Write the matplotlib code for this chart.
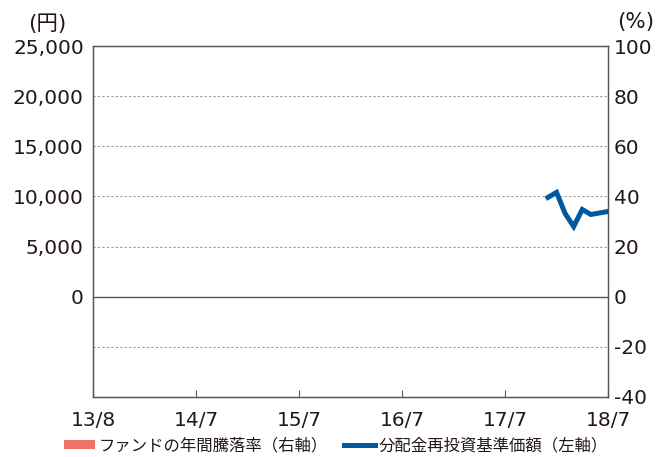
import matplotlib.pyplot as plt
from matplotlib.patches import Patch
from matplotlib.lines import Line2D

plt.rcParams["font.family"] = ["DejaVu Sans", "Noto Sans CJK JP"]
plt.rcParams["axes.unicode_minus"] = False

# months counted from 13/7, tick labels every 12 months
tick_pos = [0, 12, 24, 36, 48, 60]
tick_labels = ["13/8", "14/7", "15/7", "16/7", "17/7", "18/7"]

# 分配金再投資基準価額 (円)
nav_months = [53, 54, 55, 56, 57, 58, 59, 60]
nav_values = [9900, 10400, 8300, 7000, 8700, 8200, 8350, 8500]

# ファンドの年間騰落率 (%) - no yearly values yet
ret_months = []
ret_values = []

left_ticks = [0, 5000, 10000, 15000, 20000, 25000]
right_ticks = [-40, -20, 0, 20, 40, 60, 80, 100]

text_col = "#231815"
blue = "#00599F"
salmon = "#F07465"
cjk = ["Noto Sans CJK JP", "DejaVu Sans"]

fig = plt.figure(figsize=(6.62, 4.57), dpi=100)
ax = fig.add_axes([0.1412, 0.1313, 0.7772, 0.768])
ax2 = ax.twinx()

ax.set_ylim(-10000, 25000)
ax2.set_ylim(-40, 100)
ax.set_xlim(0, 60)

for y in [-5000, 5000, 10000, 15000, 20000]:
    ax.axhline(y, color="#9a9a9a", lw=0.8, ls=(0, (2, 2)), zorder=1)
ax.axhline(0, color="#555555", lw=1.0, zorder=2)

ax2.bar(ret_months, ret_values, color=salmon, width=0.8)
ax.plot(nav_months, nav_values, color=blue, lw=3.6, solid_joinstyle="miter", zorder=5)
ax.set_zorder(ax2.get_zorder() + 1)
ax.patch.set_visible(False)

ax.set_yticks(left_ticks)
ax.set_yticklabels([f"{v:,}" for v in left_ticks])
ax2.set_yticks(right_ticks)
ax2.set_yticklabels([str(v) for v in right_ticks])
ax.set_xticks(tick_pos)
ax.set_xticklabels(tick_labels)

ax.tick_params(axis="y", length=0, pad=7, labelsize=14.5, colors=text_col)
ax2.tick_params(axis="y", length=0, pad=4, labelsize=14.5, colors=text_col)
ax.tick_params(axis="x", direction="in", length=5, width=0.8, color="#555555",
               pad=10, labelsize=14.5, labelcolor=text_col)

for a in (ax, ax2):
    for s in a.spines.values():
        s.set_color("#555555")
        s.set_linewidth(0.9)

fig.text(47 / 662, 1 - 24 / 457, "(円)", fontsize=15.5, color=text_col,
         ha="center", va="center")
fig.text(636 / 662, 1 - 22 / 457, "(%)", fontsize=15.5, color=text_col,
         ha="center", va="center")

handles = [
    Patch(facecolor=salmon, edgecolor="none"),
    Line2D([0], [0], color=blue, lw=3.6),
]
labels = ["ファンドの年間騰落率（右軸）", "分配金再投資基準価額（左軸）"]
fig.legend(handles, labels, loc="center", bbox_to_anchor=(0.507, 0.024), ncol=2,
           frameon=False, prop={"family": cjk, "size": 11.8}, handlelength=1.9,
           handleheight=0.5, handletextpad=0.2, columnspacing=1.0,
           labelcolor=text_col)

fig.savefig("out.png", dpi=100)
